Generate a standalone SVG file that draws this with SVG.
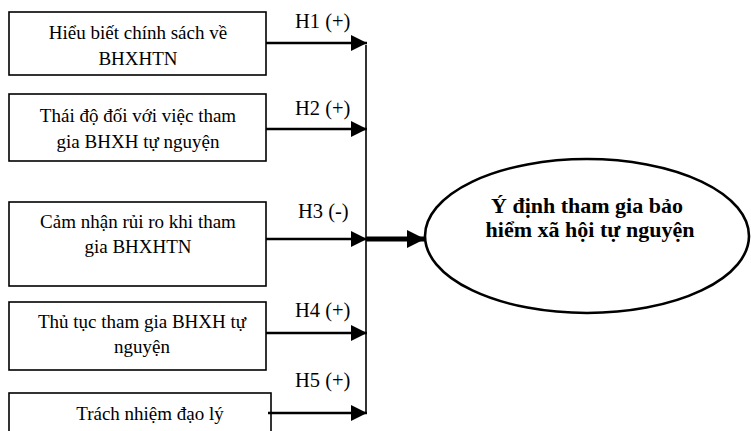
<svg xmlns="http://www.w3.org/2000/svg" width="751" height="431" viewBox="0 0 751 431">
<style>
.box{fill:#fff;stroke:#000;stroke-width:1.6}
.t{font-family:"Liberation Serif","Times New Roman",serif;font-size:19px;fill:#000;text-anchor:middle}
.lb{font-family:"Liberation Serif","Times New Roman",serif;font-size:20.5px;fill:#000}
.bt{font-family:"Liberation Serif","Times New Roman",serif;font-size:22px;font-weight:bold;fill:#000;text-anchor:middle}
.ar{stroke:#000;stroke-width:2.6;fill:none}
</style>
<defs>
<marker id="ah" markerUnits="userSpaceOnUse" markerWidth="18" markerHeight="16" refX="16" refY="8" orient="auto">
<path d="M0,0 L16,8 L0,16 Z" fill="#000"/>
</marker>
<marker id="ahb" markerUnits="userSpaceOnUse" markerWidth="20" markerHeight="20" refX="18" refY="9" orient="auto">
<path d="M0,0 L18,9 L0,18 Z" fill="#000"/>
</marker>
</defs>
<g id="n1"><rect class="box" x="9" y="12" width="257" height="63"/>
<text class="t" x="138" y="39">Hiểu biết chính sách về</text>
<text class="t" x="138" y="65">BHXHTN</text></g>
<g id="n2"><rect class="box" x="9" y="94" width="257" height="67"/>
<text class="t" x="138" y="122">Thái độ đối với việc tham</text>
<text class="t" x="138" y="148">gia BHXH tự nguyện</text></g>
<g id="n3"><rect class="box" x="9" y="202" width="257" height="84"/>
<text class="t" x="138" y="228">Cảm nhận rủi ro khi tham</text>
<text class="t" x="138" y="253">gia BHXHTN</text></g>
<g id="n4"><rect class="box" x="9" y="302" width="257" height="68"/>
<text class="t" x="142" y="328">Thủ tục tham gia BHXH tự</text>
<text class="t" x="142" y="353">nguyện</text></g>
<g id="n5"><rect class="box" x="9" y="393" width="262" height="50"/>
<text class="t" x="150" y="420">Trách nhiệm đạo lý</text></g>
<g id="n6"><ellipse cx="587" cy="236" rx="162" ry="77" fill="#fff" stroke="#000" stroke-width="2.6"/>
<text class="bt" x="587" y="213">Ý định tham gia bảo</text>
<text class="bt" x="590" y="237">hiểm xã hội tự nguyện</text></g>
<g id="connectors">
<line x1="366" y1="45" x2="366" y2="414" stroke="#000" stroke-width="1.6"/>
<line class="ar" x1="266" y1="43" x2="367" y2="43" marker-end="url(#ah)"/>
<line class="ar" x1="266" y1="129" x2="367" y2="129" marker-end="url(#ah)"/>
<line class="ar" x1="266" y1="239" x2="367" y2="239" marker-end="url(#ah)"/>
<line class="ar" x1="266" y1="333" x2="367" y2="333" marker-end="url(#ah)"/>
<line class="ar" x1="268" y1="413" x2="367" y2="413" marker-end="url(#ah)"/>
<line x1="366" y1="239" x2="425" y2="239" stroke="#000" stroke-width="5" marker-end="url(#ahb)"/>
<text class="lb" x="295" y="28">H1 (+)</text>
<text class="lb" x="295" y="115">H2 (+)</text>
<text class="lb" x="298" y="218">H3 (-)</text>
<text class="lb" x="295" y="317">H4 (+)</text>
<text class="lb" x="295" y="387">H5 (+)</text>
</g>
</svg>
